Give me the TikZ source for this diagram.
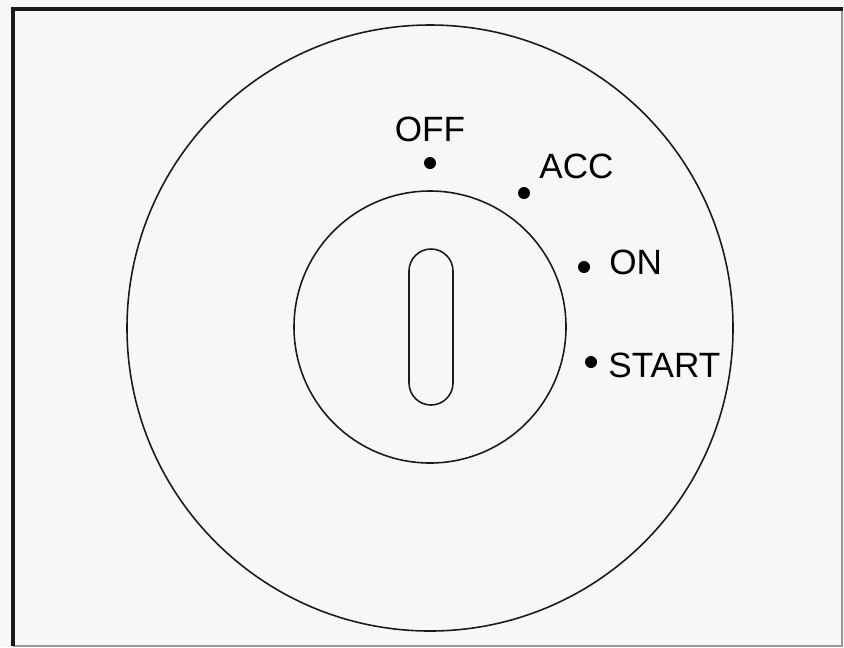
\documentclass[tikz,border=0pt]{standalone}
\usepackage{fontspec}
\setmainfont{Liberation Sans}
\usepackage{xcolor}
\definecolor{paper}{HTML}{F7F7F7}
\definecolor{ink}{HTML}{1A1A1A}

\begin{document}
\begin{tikzpicture}[
    x=0.02cm, y=-0.02cm,
    poslabel/.style={inner sep=0pt, font=\fontsize{20}{24}\selectfont, text=black},
    keydot/.style={circle, fill=black, inner sep=0pt, minimum size=0.24cm},
    rim/.style={draw=ink, line width=0.9pt}
]
    % background and frame
    \fill[paper] (0,0) rectangle (844,647);
    \useasboundingbox (0,0) rectangle (844,647);
    \draw[black!40, line width=0.8pt] (842,9) -- (842,646) -- (13,646);
    \draw[ink, line width=1.8pt] (13,646) -- (13,9) -- (843,9);

    % lock cylinder
    \draw[rim] (430,328) circle[radius=303];
    \draw[rim] (430,327) circle[radius=136];
    \draw[rim, rounded corners=0.44cm] (409,249) rectangle (453,405);

    % key positions
    \node[keydot] (off) at (430,163) {};
    \node[keydot] (acc) at (524,193) {};
    \node[keydot] (on) at (584,267) {};
    \node[keydot] (start) at (591,362) {};

    \node[poslabel] (offlbl) at (430,129) {OFF};
    \node[poslabel, anchor=west] (acclbl) at (539,166) {ACC};
    \node[poslabel, anchor=west] (onlbl) at (609,262) {ON};
    \node[poslabel, anchor=west] (startlbl) at (608,365) {START};
\end{tikzpicture}
\end{document}
